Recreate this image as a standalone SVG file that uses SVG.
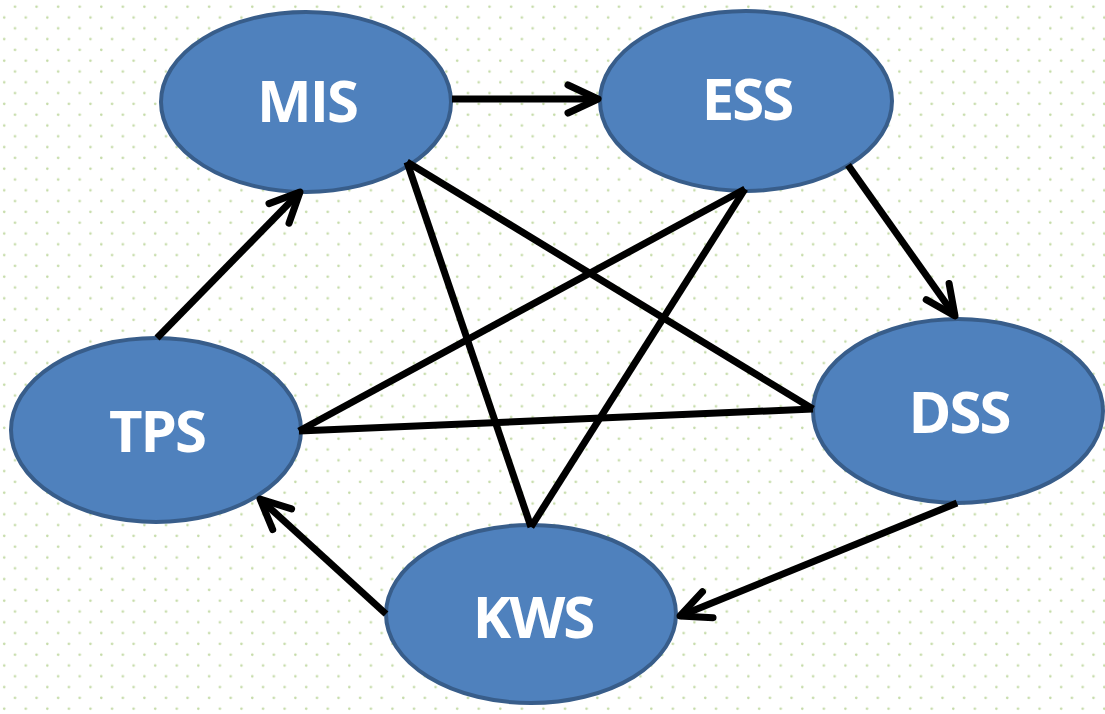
<svg xmlns="http://www.w3.org/2000/svg" width="1105" height="714" viewBox="0 0 1105 714">
<defs>
<pattern id="dots" patternUnits="userSpaceOnUse" width="21.57" height="21.6">
<circle cx="15" cy="6.7" r="1.3" fill="#c5dba8"/>
<circle cx="4.2" cy="17.5" r="1.3" fill="#c5dba8"/>
</pattern>
<marker id="arr" markerUnits="userSpaceOnUse" markerWidth="60" markerHeight="60" refX="0" refY="0" orient="auto" overflow="visible">
<path d="M -30 -14 L 0 0 L -30 14" fill="none" stroke="#000" stroke-width="7" stroke-linecap="round" stroke-linejoin="round"/>
</marker>
<style>
.node ellipse{fill:#4f81bd;stroke:#385d8a;stroke-width:4}
.node text{font-family:"Open Sans","Liberation Sans",sans-serif;font-weight:700;font-size:58px;fill:#fff;text-anchor:middle;letter-spacing:-2px}
.edge{stroke:#000;stroke-width:7;fill:none}
.arrow{marker-end:url(#arr)}
</style>
</defs>
<rect width="1105" height="714" fill="#fff"/>
<rect width="1105" height="714" fill="url(#dots)"/>
<g id="node-MIS" class="node"><ellipse cx="306" cy="102" rx="145" ry="90"/><text x="307" y="122">MIS</text></g>
<g id="node-ESS" class="node"><ellipse cx="746" cy="101" rx="146" ry="90"/><text x="747" y="120">ESS</text></g>
<g id="node-DSS" class="node"><ellipse cx="958" cy="411" rx="145" ry="92"/><text x="959" y="433">DSS</text></g>
<g id="node-TPS" class="node"><ellipse cx="156" cy="430" rx="145" ry="92"/><text x="157" y="452">TPS</text></g>
<g id="node-KWS" class="node"><ellipse cx="531" cy="614" rx="145" ry="89"/><text x="533" y="638">KWS</text></g>
<g id="connectors">
<line class="edge arrow" x1="452" y1="99" x2="598" y2="99"/>
<line class="edge arrow" x1="157" y1="338" x2="300" y2="192"/>
<line class="edge arrow" x1="848" y1="165" x2="955" y2="316"/>
<line class="edge arrow" x1="957" y1="503" x2="680" y2="616"/>
<line class="edge arrow" x1="386" y1="614" x2="260" y2="499"/>
<line class="edge" x1="407" y1="162" x2="813" y2="409"/>
<line class="edge" x1="407" y1="162" x2="531" y2="527"/>
<line class="edge" x1="745" y1="189" x2="299" y2="431"/>
<line class="edge" x1="745" y1="189" x2="531" y2="527"/>
<line class="edge" x1="299" y1="431" x2="813" y2="409"/>
</g>
</svg>
